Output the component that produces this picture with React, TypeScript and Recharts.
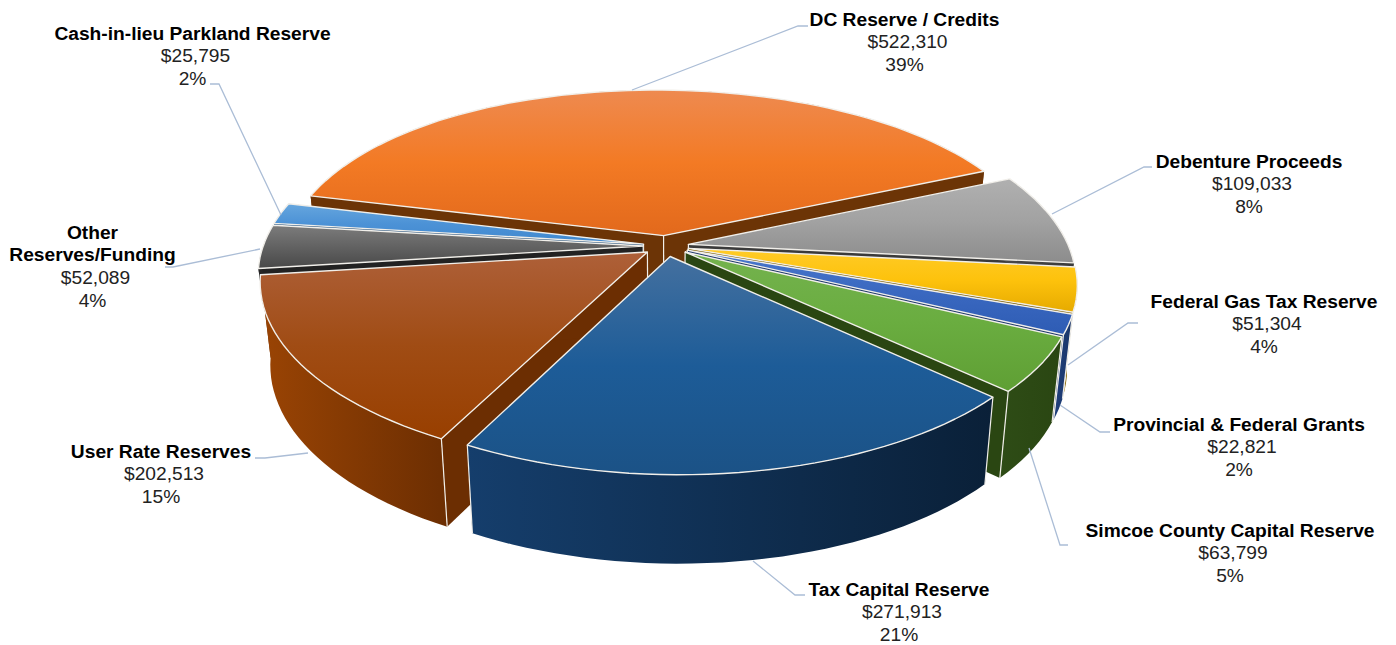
import React from "react";
import { PieChart, Pie } from "recharts";

// Capital funding sources, listed clockwise from the largest slice.
const categories = [
  ["DC Reserve / Credits"],
  ["Debenture Proceeds"],
  ["Federal Gas Tax Reserve"],
  ["Provincial & Federal Grants"],
  ["Simcoe County Capital Reserve"],
  ["Tax Capital Reserve"],
  ["User Rate Reserves"],
  ["Other", "Reserves/Funding"],
  ["Cash-in-lieu Parkland Reserve"],
];
const amounts = [522310, 109033, 51304, 22821, 63799, 271913, 202513, 52089, 25795];
const shares = ["39%", "8%", "4%", "2%", "5%", "21%", "15%", "4%", "2%"];

const topStops = [
  ["#ee8a50", "#f37a24", "#e2691c"],
  ["#b0b0b0", "#a2a2a2", "#8c8c8c"],
  ["#ffcb28", "#fdc20c", "#e6aa00"],
  ["#4a78cc", "#3a68c0", "#2e5cb4"],
  ["#74b24e", "#6aad40", "#5f9f34"],
  ["#44709f", "#1d5c98", "#1b5286"],
  ["#ae6039", "#a04c14", "#983f00"],
  ["#7c7c7c", "#626262", "#484848"],
  ["#66a6de", "#4c92d6", "#3f88ce"],
];
const wallStops = [
  ["#6c3406", "#6c3406"],
  ["#4a4a4a", "#3a3a3a"],
  ["#8a6800", "#7a5c00"],
  ["#20407c", "#1a3568"],
  ["#2e4c16", "#2a4612"],
  ["#153e6c", "#0a2038"],
  ["#9a4404", "#6c2e02"],
  ["#262626", "#222222"],
  ["#2b5a88", "#24507c"],
];

// Walls are painted from the back of the disc to the front.
const wallPaintOrder = [0, 8, 1, 7, 2, 3, 4, 6, 5];

const labelSpots = [
  [904.5, 19], [1249, 161], [1264, 301], [1239, 424], [1230, 530],
  [899, 589], [161, 451], [92.5, 232], [192.5, 33],
];
const leaders = [
  "632,90 798,26 808,26",
  "1052,214 1144,167 1152,167",
  "1068,365 1128,323 1138,323",
  "1060,405 1100,432 1110,432",
  "1029,448 1060,545 1068,545",
  "753,561 795,595 805,595",
  "308,453 265,458 255,458",
  "260,249 173,267 165,267",
  "281,215 219,84 210,84",
];

const rows = categories.map((c, i) => ({ name: c.join(" "), value: amounts[i] }));

const TILT = 0.179;
const SQUASH = 0.4605;
const DEPTH = 82;
const EXPLODE = 0.06;
const RAD = Math.PI / 180;

type SectorProps = { index: number; cx: number; cy: number; outerRadius: number; startAngle: number; endAngle: number };

// Perspective projection of a point on the disc plane, z = 0 top face, z = 1 underside.
function projector(p: SectorProps) {
  const mid = ((p.startAngle + p.endAngle) / 2) * RAD;
  const ox = EXPLODE * Math.cos(mid);
  const oy = -EXPLODE * Math.sin(mid);
  const at = (u: number, v: number, z: number) => {
    const du = u + ox;
    const dv = v + oy;
    const spread = 1 + 0.17 * dv + 0.04 * dv * dv;
    const x = p.cx + 8 * dv + p.outerRadius * du * spread * (1 - 0.025 * z);
    const y = p.cy + (p.outerRadius * SQUASH * dv) / (1 - TILT * dv) + DEPTH * z * (1 + 0.08 * dv);
    return `${x.toFixed(1)},${y.toFixed(1)}`;
  };
  return at;
}

function arcAngles(p: SectorProps) {
  const n = Math.max(2, Math.ceil(Math.abs(p.startAngle - p.endAngle) / 2));
  return Array.from({ length: n + 1 }, (_, i) => (p.startAngle + ((p.endAngle - p.startAngle) * i) / n) * RAD);
}

function TopFace(p: SectorProps) {
  const at = projector(p);
  const rim = arcAngles(p).map((a) => at(Math.cos(a), -Math.sin(a), 0));
  return (
    <polygon
      points={[at(0, 0, 0), ...rim].join(" ")}
      fill={`url(#top-${p.index})`}
      stroke="#f1efea"
      strokeWidth={1.4}
      strokeLinejoin="round"
    />
  );
}

function WallFaces(p: SectorProps) {
  const at = projector(p);
  const angles = arcAngles(p);
  const mid = ((p.startAngle + p.endAngle) / 2) * RAD;
  // A slice on the far left only shows its cut face through the gap, so keep it shallow.
  const floor = Math.cos(mid) < 0 && Math.abs(Math.sin(mid)) < 0.2 ? 0.2 : 1;
  const top = angles.map((a) => at(Math.cos(a), -Math.sin(a), 0));
  const bottom = angles.map((a) => at(Math.cos(a), -Math.sin(a), floor)).reverse();
  const first = angles[0];
  const last = angles[angles.length - 1];
  const rimAt = (a: number, z: number) => at(Math.cos(a), -Math.sin(a), z);
  const flat = wallStops[p.index][1];
  const edge = "#f1efea";
  // Corner lines only show on the side of the disc nearest the viewer.
  const nearCorners = [first, last].filter((a) => Math.sin(a) < -0.3);
  return (
    <g>
      <polygon points={[at(0, 0, 0), at(0, 0, floor), rimAt(first, floor), rimAt(first, 0)].join(" ")} fill={flat} />
      <polygon points={[at(0, 0, 0), at(0, 0, floor), rimAt(last, floor), rimAt(last, 0)].join(" ")} fill={flat} />
      <polygon points={[...top, ...bottom].join(" ")} fill={`url(#wall-${p.index})`} />
      <polyline points={`${at(0, 0, 0)} ${at(0, 0, floor)}`} stroke={edge} strokeWidth={1.2} fill="none" />
      {nearCorners.map((a) => (
        <polyline key={a} points={`${rimAt(a, 0)} ${rimAt(a, 1)}`} stroke={edge} strokeWidth={1.2} fill="none" />
      ))}
    </g>
  );
}

function SliceLabel({ index }: { index: number }) {
  const [x, y] = labelSpots[index];
  const title = categories[index];
  const lineGap = 22.7;
  const baseline = y + 6.5;
  return (
    <g fontFamily="'Liberation Sans', Arial, sans-serif" fontSize={19.2} textAnchor="middle">
      <polyline points={leaders[index]} fill="none" stroke="#abbdd6" strokeWidth={1.3} />
      {title.map((line, i) => (
        <text key={line} x={x} y={baseline + i * lineGap} fontWeight="bold" fill="#000">
          {line}
        </text>
      ))}
      <text x={x + 3} y={baseline + title.length * lineGap} fill="#222">
        ${amounts[index].toLocaleString("en-US")}
      </text>
      <text x={x} y={baseline + (title.length + 1) * lineGap} fill="#222">
        {shares[index]}
      </text>
    </g>
  );
}

const pieProps = {
  data: rows,
  dataKey: "value",
  nameKey: "name",
  cx: 666,
  cy: 246,
  outerRadius: 380,
  startAngle: 166,
  endAngle: -194,
  stroke: "none",
  legendType: "none" as const,
  isAnimationActive: false,
  labelLine: false,
};

export default function App() {
  return (
    <div style={{ position: "absolute", left: 0, top: 0, width: 1396, height: 645, background: "#fff" }}>
      <PieChart width={1396} height={645} margin={{ top: 0, right: 0, bottom: 0, left: 0 }}>
        <defs>
          {topStops.map((s, i) => (
            <linearGradient key={i} id={`top-${i}`} x1="0" y1="0" x2="0" y2="1">
              <stop offset="0%" stopColor={s[0]} />
              <stop offset="50%" stopColor={s[1]} />
              <stop offset="100%" stopColor={s[2]} />
            </linearGradient>
          ))}
          {wallStops.map((s, i) => (
            <linearGradient key={i} id={`wall-${i}`} x1="0" y1="0" x2="1" y2="0">
              <stop offset="0%" stopColor={s[0]} />
              <stop offset="100%" stopColor={s[1]} />
            </linearGradient>
          ))}
        </defs>
        {wallPaintOrder.map((slice) => (
          <Pie
            key={slice}
            {...pieProps}
            shape={(p: SectorProps) => (p.index === slice ? <WallFaces {...p} /> : <g />)}
          />
        ))}
        <Pie
          {...pieProps}
          shape={(p: SectorProps) => <TopFace {...p} />}
          label={(p: { index: number }) => <SliceLabel index={p.index} />}
        />
      </PieChart>
    </div>
  );
}
